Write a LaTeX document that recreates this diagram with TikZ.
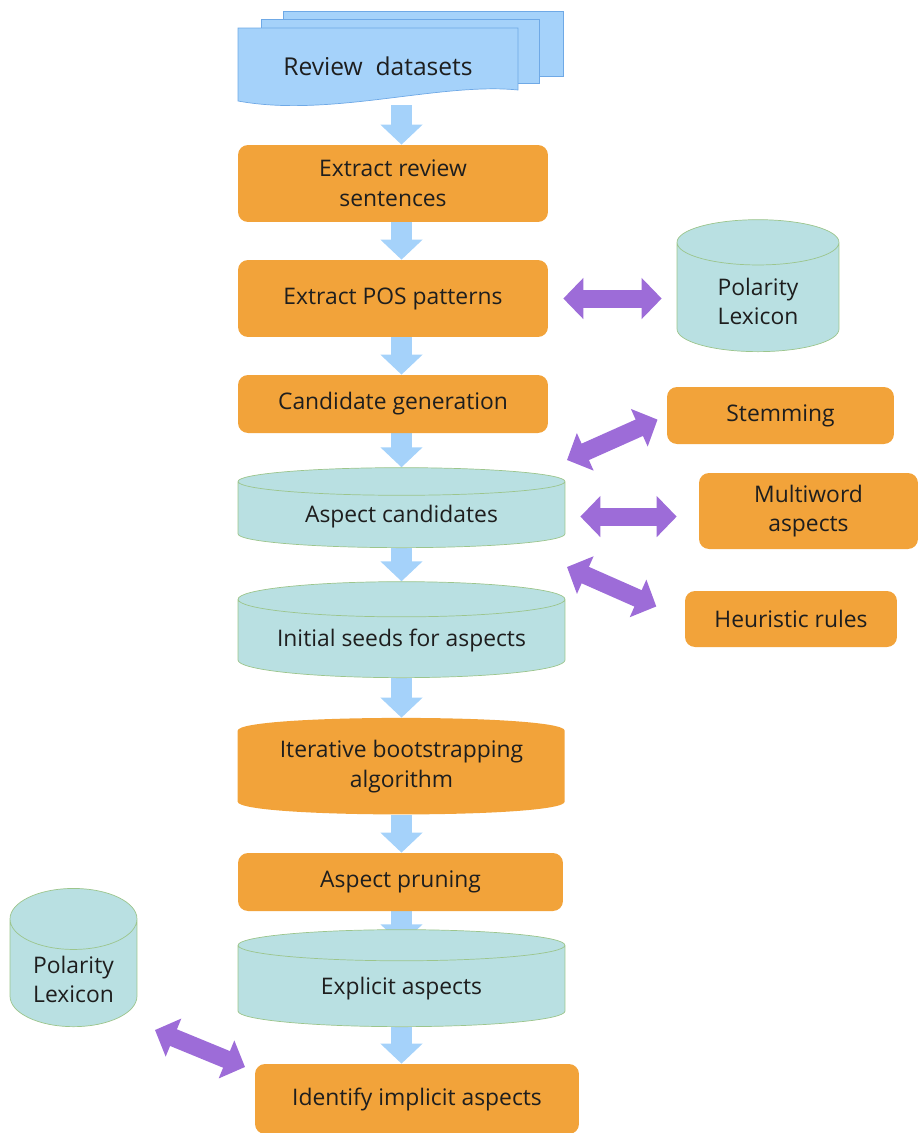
\documentclass[tikz,border=0pt]{standalone}
\usepackage{fontspec}
\setmainfont{Open Sans}
\usetikzlibrary{shapes.geometric, arrows.meta, backgrounds}

\definecolor{naranja}{HTML}{F2A33A}
\definecolor{celeste}{HTML}{A5D2FA}
\definecolor{azulborde}{HTML}{6FA9E6}
\definecolor{turquesa}{HTML}{B9E0E2}
\definecolor{verdeborde}{HTML}{9CC58C}
\definecolor{morado}{HTML}{9D6CD8}
\definecolor{texto}{HTML}{1E1E1E}

\begin{document}
\begin{tikzpicture}[
        x=0.02cm, y=-0.02cm,
        caja/.style={rectangle, fill=naranja, rounded corners=0.2cm, align=center, text=texto, font=\fontsize{13}{17}\selectfont},
        cilindro/.style={cylinder, shape border rotate=90, draw=verdeborde, fill=turquesa, align=center, text=texto, anchor=south, font=\fontsize{13}{17}\selectfont},
        barril/.style={rectangle, align=center, text=texto, font=\fontsize{13}{17}\selectfont},
        hoja/.style={draw=azulborde, fill=celeste, thin},
        flecha/.style={-{Triangle[width=0.82cm, length=0.4cm]}, line width=0.42cm, draw=celeste},
        doble/.style={{Triangle[width=0.8cm, length=0.4cm]}-{Triangle[width=0.8cm, length=0.4cm]}, line width=0.36cm, draw=morado}
    ]
        \useasboundingbox (0,0) rectangle (918,1133);
        \coordinate (eje) at (401.5,0);

        % review datasets (stack of documents)
        \draw[hoja] (283,11) rectangle (563,76);
        \draw[hoja] (261,19) rectangle (539,83);
        \draw[hoja] (238,28) -- (518,28) -- (518,90) .. controls (440,82) and (330,118) .. (238,101) -- cycle;
        \node[text=texto, font=\fontsize{14}{17}\selectfont, minimum width=5.6cm, minimum height=1.54cm] (datos) at (378,66.5) {Review~~datasets};

        % main column (cylinders placed by their bottom)
        \node[caja, minimum width=6.2cm, minimum height=1.54cm] (frases) at (393,183.5) {Extract review\\sentences};
        \node[caja, minimum width=6.2cm, minimum height=1.54cm] (pos) at (393,298.5) {Extract POS patterns};
        \node[caja, minimum width=6.2cm, minimum height=1.16cm] (gen) at (393,404) {Candidate generation};
        \node[cilindro, minimum width=6.54cm, minimum height=1.6cm, aspect=0.135] (cand) at (401.5,548) {Aspect candidates};
        \node[cilindro, minimum width=6.54cm, minimum height=1.92cm, aspect=0.135] (semillas) at (401.5,678) {Initial seeds for aspects};
        \node[barril, minimum width=6.54cm, minimum height=1.94cm] (boot) at (401.5,766.5) {Iterative bootstrapping\\algorithm};
        \node[caja, minimum width=6.5cm, minimum height=1.16cm] (poda) at (400.5,882) {Aspect pruning};
        \node[cilindro, minimum width=6.54cm, minimum height=1.94cm, aspect=0.18] (expl) at (401.5,1027) {Explicit aspects};
        \node[caja, minimum width=6.48cm, minimum height=1.4cm] (impl) at (417,1099) {Identify implicit aspects};

        % side resources
        \node[cilindro, minimum width=3.24cm, minimum height=2.64cm, aspect=0.49] (lex1) at (758,352) {Polarity\\Lexicon};
        \node[cilindro, minimum width=2.54cm, minimum height=2.7cm, aspect=0.66] (lex2) at (73.5,1027) {Polarity\\Lexicon};
        \node[caja, minimum width=4.54cm, minimum height=1.14cm] (stem) at (780.5,415.5) {Stemming};
        \node[caja, minimum width=4.38cm, minimum height=1.52cm] (multi) at (808.5,511) {Multiword\\aspects};
        \node[caja, minimum width=4.24cm, minimum height=1.12cm] (heur) at (791,619) {Heuristic rules};

        \begin{pgfonlayer}{background}
            % barrel behind the bootstrapping text
            \fill[naranja] (boot.north west) ++(0,13) .. controls +(0,-17) and +(0,-17) .. ++(327,0)
                -- ++(0,71) .. controls +(0,17) and +(0,17) .. ++(-327,0) -- cycle;
            % flow arrows
            \draw[flecha] (eje |- datos.south) -- (eje |- frases.north);
            \draw[flecha] (eje |- frases.south) -- (eje |- pos.north);
            \draw[flecha] (eje |- pos.south) -- (eje |- gen.north);
            \draw[flecha] (eje |- gen.south) -- (eje |- cand.north);
            \draw[flecha] (eje |- cand.south) -- (eje |- semillas.north);
            \draw[flecha] (eje |- semillas.south) -- (eje |- boot.north);
            \draw[flecha] (eje |- boot.south) -- (eje |- poda.north);
            \draw[flecha, shorten >=-0.3cm] (eje |- poda.south) -- (eje |- expl.north);
            \draw[flecha] (eje |- expl.south) -- (eje |- impl.north);
        \end{pgfonlayer}

        % two-way links
        \coordinate (s1) at (567,460);
        \coordinate (s2) at (567,567);
        \coordinate (s3) at (155,1030);
        \coordinate (s4) at (245,1067);
        \draw[doble, shorten <=0.3cm, shorten >=0.3cm] (pos.east) -- (pos.east -| lex1.west);
        \draw[doble, shorten >=0.2cm] (s1) -- (stem.west);
        \draw[doble, shorten <=0.3cm, shorten >=0.44cm] (cand.east) -- (cand.east -| multi.west);
        \draw[doble, shorten >=0.62cm] (s2) -- (heur.west);
        \draw[doble] (s3) -- (s4);
    \end{tikzpicture}
\end{document}
